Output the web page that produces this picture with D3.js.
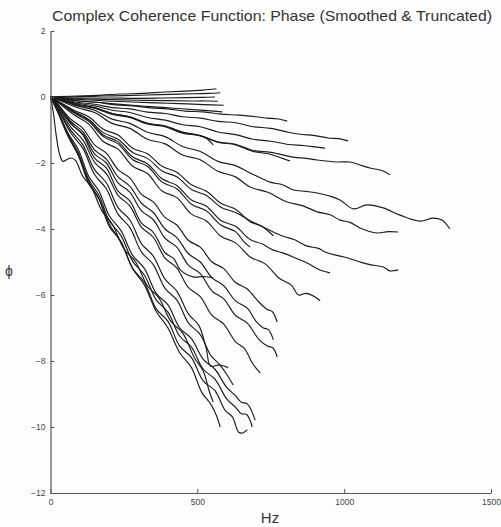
<!DOCTYPE html>
<html>
<head>
<meta charset="utf-8">
<script src="https://cdn.jsdelivr.net/npm/d3@7"></script>
<style>
  html, body { margin: 0; padding: 0; background: #fdfdfd; }
  svg { display: block; font-family: "Liberation Sans", Arial, sans-serif; }
</style>
</head>
<body>
<svg id="chart" width="501" height="527"></svg>
<script>
// ---- data ----
const titleText = "Complex Coherence Function: Phase (Smoothed & Truncated)";
const xLabel = "Hz";
const yLabel = "ϕ";
const xTicks = [0, 500, 1000, 1500];
const yTicks = [-12, -10, -8, -6, -4, -2, 0, 2];
const xDomain = [0, 1500];
const yDomain = [-12, 2];

// each phase curve: [Hz, phase]
const L01 = [[0,0],[25,0.01],[90,0.03],[160,0.05],[240,0.09],[310,0.11],[390,0.15],[460,0.18],[520,0.21],[565,0.25]];
const L02 = [[0,0],[30,0],[100,0.01],[180,0.03],[250,0.04],[330,0.06],[410,0.08],[490,0.1],[540,0.11],[578,0.13]];
const L03 = [[0,0],[35,-0.02],[110,-0.03],[200,-0.03],[290,-0.04],[380,-0.03],[460,-0.02],[520,-0.01],[560,0]];
const L04 = [[0,0],[35,-0.03],[120,-0.06],[210,-0.08],[300,-0.1],[390,-0.11],[470,-0.12],[530,-0.12],[570,-0.13]];
const L05 = [[0,0],[35,-0.04],[110,-0.08],[190,-0.12],[280,-0.15],[360,-0.18],[440,-0.2],[520,-0.23],[590,-0.25]];
const L06 = [[0,0],[30,-0.05],[100,-0.12],[180,-0.18],[260,-0.24],[340,-0.29],[420,-0.34],[500,-0.39],[585,-0.45]];
const L07 = [[0,0],[30,-0.05],[100,-0.13],[160,-0.16],[220,-0.24],[280,-0.27],[340,-0.33],[400,-0.36],[460,-0.43],[520,-0.45],[580,-0.52],[640,-0.55],[700,-0.6],[738,-0.64],[770,-0.66],[806,-0.73]];
const L08 = [[0,0],[30,-0.06],[90,-0.16],[150,-0.22],[210,-0.32],[270,-0.36],[330,-0.46],[390,-0.5],[450,-0.6],[510,-0.64],[570,-0.74],[630,-0.78],[690,-0.9],[750,-0.95],[810,-1.07],[850,-1.13],[900,-1.17],[950,-1.25],[980,-1.26],[1013,-1.33]];
const L09 = [[0,0],[30,-0.07],[90,-0.19],[150,-0.27],[210,-0.4],[270,-0.47],[330,-0.62],[390,-0.7],[450,-0.84],[510,-0.9],[570,-1.06],[630,-1.14],[690,-1.28],[750,-1.34],[810,-1.44],[860,-1.47],[900,-1.51],[935,-1.55]];
const L10 = [[0,0],[30,-0.08],[90,-0.22],[150,-0.33],[210,-0.5],[270,-0.6],[330,-0.8],[390,-0.88],[450,-1.08],[510,-1.17],[570,-1.37],[630,-1.45],[690,-1.65],[740,-1.72],[790,-1.86],[816,-1.94]];
const L11 = [[0,0],[30,-0.08],[90,-0.24],[150,-0.34],[210,-0.53],[270,-0.62],[330,-0.82],[390,-0.9],[450,-1.1],[510,-1.17],[570,-1.36],[630,-1.43],[690,-1.62],[750,-1.68],[827,-1.82],[870,-1.86],[908,-1.91],[976,-1.97],[1020,-1.97],[1060,-2.08],[1088,-2.15],[1133,-2.24],[1156,-2.36]];
const L12 = [[0,0],[30,-0.07],[90,-0.22],[150,-0.32],[210,-0.5],[270,-0.6],[330,-0.8],[390,-0.88],[450,-1.06],[500,-1.15],[530,-1.25],[554,-1.45]];
const L13 = [[0,0],[30,-0.08],[90,-0.27],[150,-0.4],[210,-0.67],[270,-0.8],[330,-1.07],[390,-1.2],[450,-1.5],[510,-1.65],[570,-1.95],[630,-2.08],[680,-2.3],[748,-2.58],[790,-2.66],[827,-2.82],[870,-2.86],[908,-2.91],[950,-3.0],[986,-3.12],[1031,-3.39],[1078,-3.27],[1133,-3.36],[1190,-3.58],[1259,-3.76],[1303,-3.67],[1333,-3.73],[1360,-4.0]];
const L14 = [[0,0],[30,-0.1],[90,-0.32],[150,-0.47],[210,-0.8],[270,-0.95],[330,-1.28],[390,-1.42],[450,-1.76],[510,-1.9],[570,-2.25],[630,-2.42],[680,-2.73],[738,-2.88],[806,-3.18],[860,-3.3],[908,-3.48],[950,-3.56],[986,-3.73],[1020,-3.8],[1054,-3.97],[1112,-4.12],[1150,-4.08],[1184,-4.09]];
const L15 = [[0,0],[25,-0.12],[80,-0.4],[130,-0.6],[180,-0.98],[230,-1.15],[280,-1.55],[330,-1.72],[380,-2.1],[430,-2.28],[480,-2.66],[530,-2.85],[580,-3.22],[630,-3.4],[680,-3.78],[720,-3.92],[759,-4.21]];
const L16 = [[0,0],[25,-0.14],[80,-0.44],[130,-0.68],[180,-1.08],[230,-1.28],[280,-1.68],[330,-1.86],[380,-2.24],[430,-2.42],[480,-2.8],[530,-2.98],[580,-3.34],[630,-3.5],[680,-3.75],[738,-4.0],[793,-4.22],[830,-4.32],[874,-4.52],[910,-4.58],[942,-4.72],[1000,-4.85],[1054,-5.0],[1088,-5.08],[1133,-5.15],[1156,-5.27],[1184,-5.24]];
const L17 = [[0,0],[25,-0.14],[80,-0.46],[130,-0.7],[180,-1.15],[230,-1.36],[280,-1.82],[330,-2.02],[380,-2.48],[430,-2.68],[480,-3.12],[530,-3.3],[580,-3.74],[630,-3.92],[680,-4.32],[720,-4.45],[759,-4.64],[793,-4.73],[840,-4.9],[874,-5.03],[920,-5.25],[952,-5.33]];
const L18 = [[0,0],[25,-0.22],[70,-0.8],[110,-1.15],[150,-1.85],[190,-2.15],[230,-2.85],[270,-3.15],[310,-3.82],[350,-4.1],[390,-4.72],[420,-4.9],[442,-5.24],[486,-5.45],[520,-5.44],[554,-5.48]];
const L19 = [[0,0],[25,-0.16],[80,-0.54],[130,-0.82],[180,-1.35],[230,-1.58],[280,-2.1],[330,-2.32],[380,-2.85],[430,-3.05],[480,-3.55],[530,-3.75],[580,-4.22],[630,-4.42],[680,-4.85],[730,-5.05],[780,-5.5],[820,-5.7],[845,-6.0],[870,-5.95],[900,-6.05],[918,-6.18]];
const L20 = [[0,0],[25,-0.22],[70,-0.68],[110,-0.95],[150,-1.45],[190,-1.7],[230,-2.2],[270,-2.45],[310,-2.95],[350,-3.18],[390,-3.65],[430,-3.88],[470,-4.35],[510,-4.55],[550,-5.0],[590,-5.2],[630,-5.62],[670,-5.82],[710,-6.22],[740,-6.45],[755,-6.5],[772,-6.82]];
const L21 = [[0,0],[25,-0.24],[70,-0.75],[110,-1.05],[150,-1.6],[190,-1.88],[230,-2.42],[270,-2.7],[310,-3.22],[350,-3.5],[390,-4.0],[430,-4.26],[470,-4.75],[510,-5.0],[550,-5.48],[590,-5.72],[630,-6.18],[670,-6.4],[700,-6.8],[725,-7.0],[742,-7.05],[759,-7.36]];
const L22 = [[0,0],[25,-0.26],[70,-0.82],[110,-1.12],[150,-1.72],[190,-2.0],[230,-2.6],[270,-2.88],[310,-3.45],[350,-3.72],[390,-4.28],[430,-4.55],[470,-5.1],[510,-5.35],[550,-5.88],[590,-6.12],[630,-6.62],[670,-6.85],[710,-7.35],[740,-7.55],[757,-7.6],[772,-7.88]];
const L23 = [[0,0],[25,-0.3],[70,-0.92],[110,-1.3],[150,-1.98],[190,-2.32],[230,-2.98],[270,-3.3],[310,-3.95],[350,-4.25],[390,-4.88],[430,-5.18],[470,-5.78],[510,-6.05],[550,-6.62],[590,-6.88],[630,-7.42],[660,-7.62],[690,-8.1],[714,-8.36]];
const L24 = [[0,0],[25,-0.36],[70,-1.1],[110,-1.55],[150,-2.35],[190,-2.78],[230,-3.55],[270,-3.95],[310,-4.7],[350,-5.08],[390,-5.8],[430,-6.15],[470,-6.85],[510,-7.2],[545,-7.82],[575,-8.1],[600,-8.4],[622,-8.73]];
const L25 = [[0,0],[25,-0.34],[70,-1.02],[110,-1.45],[150,-2.2],[190,-2.6],[230,-3.35],[270,-3.72],[310,-4.45],[350,-4.82],[390,-5.52],[430,-5.88],[470,-6.58],[505,-6.92],[530,-7.6],[545,-8.15],[575,-8.12],[605,-8.2]];
const L26 = [[0,0],[25,-0.42],[60,-1.1],[95,-1.6],[130,-2.4],[165,-2.85],[200,-3.6],[240,-4.05],[280,-4.8],[320,-5.2],[360,-5.95],[400,-6.3],[440,-7.0],[480,-7.32],[520,-7.95],[560,-8.25],[600,-8.8],[630,-9.05],[650,-9.25],[670,-9.3],[697,-9.79]];
const L27 = [[0,0],[25,-0.45],[60,-1.15],[95,-1.7],[130,-2.5],[165,-2.98],[200,-3.75],[240,-4.2],[280,-4.98],[320,-5.4],[360,-6.15],[400,-6.52],[440,-7.25],[480,-7.58],[520,-8.25],[560,-8.55],[600,-9.15],[630,-9.4],[650,-9.6],[668,-9.62],[687,-10.0]];
const L28 = [[0,0],[25,-0.46],[60,-1.2],[95,-1.78],[130,-2.62],[165,-3.1],[200,-3.92],[240,-4.38],[280,-5.2],[320,-5.62],[360,-6.42],[400,-6.8],[440,-7.55],[480,-7.9],[520,-8.6],[560,-8.9],[595,-9.5],[620,-9.7],[640,-10.15],[655,-10.18],[670,-10.08]];
const L29 = [[0,0],[25,-0.45],[60,-1.15],[95,-1.75],[130,-2.55],[165,-3.08],[200,-3.85],[240,-4.4],[280,-5.2],[320,-5.7],[360,-6.5],[400,-7.0],[440,-7.75],[480,-8.2],[515,-8.95],[545,-9.3],[565,-9.65],[578,-10.0]];
const L30 = [[0,0],[10,-0.5],[20,-1.2],[30,-1.7],[42,-1.95],[55,-1.9],[70,-1.85],[85,-1.92],[110,-2.4],[140,-2.75],[175,-3.45],[210,-3.85],[250,-4.6],[290,-5.0],[330,-5.72],[370,-6.1],[410,-6.8],[450,-7.15],[490,-7.9],[520,-8.3],[540,-8.9],[554,-9.24]];
const L31 = [[0,0],[25,-0.15],[80,-0.48],[130,-0.74],[180,-1.2],[230,-1.42],[280,-1.9],[330,-2.1],[380,-2.58],[430,-2.78],[480,-3.25],[530,-3.45],[580,-3.88],[630,-4.08],[660,-4.4],[680,-4.55]];

const curves = [L01,L02,L03,L04,L05,L06,L07,L08,L09,L10,L11,L12,L13,L14,L15,L16,
                L17,L18,L19,L20,L21,L22,L23,L24,L25,L26,L27,L28,L29,L30,L31];

// ---- drawing ----
const svg = d3.select("#chart");
const plotLeft = 50.5, plotRight = 491, plotTop = 31, plotBottom = 493;

const x = d3.scaleLinear().domain(xDomain).range([plotLeft, plotRight]);
const y = d3.scaleLinear().domain(yDomain).range([plotBottom, plotTop]);

const line = d3.line()
  .x(d => x(d[0]))
  .y(d => y(d[1]))
  .curve(d3.curveCatmullRom.alpha(0.5));

svg.append("g")
  .selectAll("path")
  .data(curves)
  .join("path")
  .attr("d", line)
  .attr("fill", "none")
  .attr("stroke", "#1c1c1c")
  .attr("stroke-width", 1.15)
  .attr("stroke-linejoin", "round");

const gx = svg.append("g")
  .attr("transform", `translate(0,${plotBottom})`)
  .call(d3.axisBottom(x).tickValues(xTicks).tickFormat(d3.format("d"))
        .tickSizeInner(-4).tickSizeOuter(0).tickPadding(6));
const gy = svg.append("g")
  .attr("transform", `translate(${plotLeft},0)`)
  .call(d3.axisLeft(y).tickValues(yTicks).tickFormat(d => d < 0 ? "\u2212" + Math.abs(d) : String(d))
        .tickSizeInner(-4).tickSizeOuter(0).tickPadding(5));

[gx, gy].forEach(g => {
  g.select(".domain").attr("stroke", "#555").attr("stroke-width", 1.2);
  g.selectAll(".tick line").attr("stroke", "#555");
  g.selectAll(".tick text").attr("fill", "#444").style("font-size", "8.5px")
    .style("font-family", "'Liberation Sans', Arial, sans-serif");
});

svg.append("text")
  .attr("x", 272).attr("y", 21)
  .attr("text-anchor", "middle")
  .attr("textLength", 440).attr("lengthAdjust", "spacingAndGlyphs")
  .style("font-size", "15px").attr("fill", "#333")
  .text(titleText);

svg.append("text")
  .attr("x", 270).attr("y", 523)
  .attr("text-anchor", "middle")
  .style("font-size", "15px").attr("fill", "#333")
  .text(xLabel);

svg.append("text")
  .attr("x", 9).attr("y", 276)
  .attr("text-anchor", "middle")
  .style("font-size", "14px").attr("fill", "#333")
  .text(yLabel);
</script>
</body>
</html>
